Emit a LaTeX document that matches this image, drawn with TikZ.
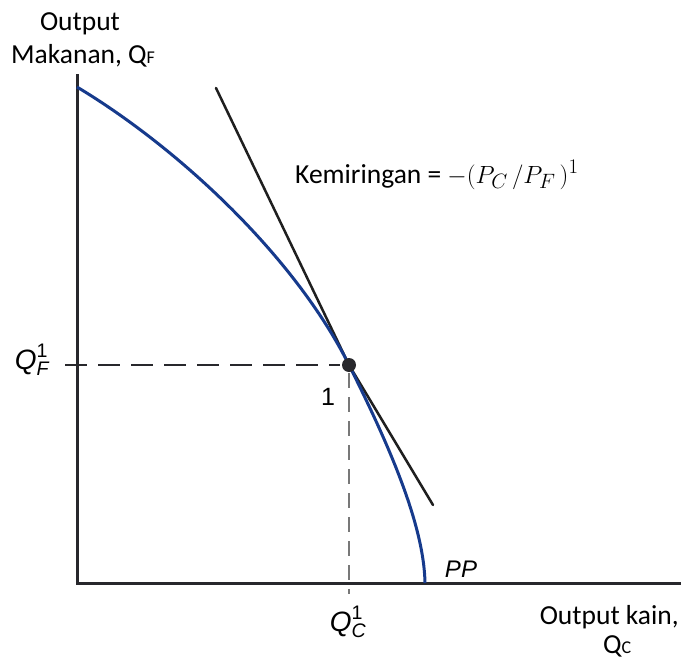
\documentclass[tikz,border=0pt]{standalone}
\usepackage{amsmath}
\usepackage{fontspec}
\setmainfont{Carlito}
\newfontfamily\qf{Liberation Sans}
\definecolor{axisgray}{RGB}{40,40,44}
\definecolor{ppblue}{RGB}{22,58,140}
\definecolor{dashgray}{RGB}{120,120,120}
\tikzset{
  axisline/.style={draw=axisgray,line width=3pt},
  ppcurve/.style={draw=ppblue,line width=3pt},
  tangentline/.style={draw=black!88,line width=2.5pt},
  hdash/.style={draw=axisgray,line width=2pt,dash pattern=on 22pt off 11pt},
  vdash/.style={draw=dashgray,line width=2.5pt,dash pattern=on 15pt off 9pt},
  lbl/.style={inner sep=0pt,font=\fontsize{27.5}{32}\selectfont},
  qlbl/.style={inner sep=0pt,font=\fontsize{28}{32}\selectfont\qf}
}
\begin{document}
\begin{tikzpicture}[x=1pt,y=-1pt]
\useasboundingbox (0,0) rectangle (681,659);
% axes
\coordinate (O) at (77,583);
\coordinate (ytop) at (77,75);
\coordinate (xend) at (690,583);
\draw[axisline,line cap=rect] (ytop) -- (O) -- (xend);
% key points
\coordinate (A) at (77,87);
\coordinate (E) at (349,365);
\coordinate (B) at (425,583);
\coordinate (T1) at (216,88);
\coordinate (T2) at (433,505);
\coordinate (hstart) at (65,365);
\coordinate (hend) at (340,365);
\coordinate (vstart) at (349,373);
\coordinate (vend) at (349,594);
% dashed guides
\draw[hdash] (hstart) -- (hend);
\draw[vdash] (vstart) -- (vend);
% tangent
\draw[tangentline,line cap=round] (T1) -- (E) -- (T2);
% PP curve
\draw[ppcurve] (A) .. controls (177,147) and (294,255) .. (E)
  .. controls (389,445) and (424,525) .. (B);
% point
\fill[axisgray] (E) circle (7pt);
\node[inner sep=0pt] (pt) at (E) {};
% labels
\node[lbl,anchor=base] (ylab1) at (80,30) {Output};
\node[lbl,anchor=base west] (ylab2) at (11,63) {Makanan, Q{\fontsize{18}{18}\selectfont F}};
\node[lbl,anchor=base west] (slope) at (295,183) {Kemiringan = {\fontsize{30}{34}\selectfont$-(P_C\,/P_F\,)^1$}};
\node[qlbl,anchor=center] (qf) at (32,360) {$\text{\qf\itshape Q}^{\text{\qf 1}}_{\text{\qf\itshape F}}$};
\node[qlbl,anchor=center] (qc) at (348,622) {$\text{\qf\itshape Q}^{\text{\qf 1}}_{\text{\qf\itshape C}}$};
\node[inner sep=0pt,font=\fontsize{25}{30}\selectfont\qf,anchor=center] (one) at (328,397) {1};
\node[inner sep=0pt,font=\fontsize{24}{28}\selectfont\qf\itshape,anchor=center] (pp) at (461,569) {PP};
\node[lbl,anchor=base east] (xlab1) at (679,624) {Output kain,};
\node[lbl,anchor=base west] (xlab2) at (603,653) {Q{\fontsize{18}{18}\selectfont C}};
\end{tikzpicture}
\end{document}
